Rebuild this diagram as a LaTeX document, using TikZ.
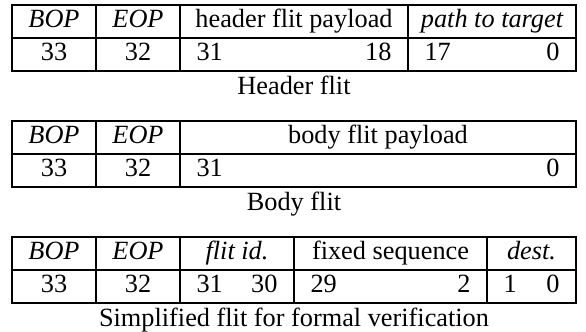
\documentclass[tikz,border=0pt]{standalone}
\usepackage{fontspec}
\setmainfont{Liberation Serif}
\begin{document}
\begin{tikzpicture}[x=0.3803pt, y=-0.3803pt,
    outer/.style={line width=0.8pt},
    inner/.style={line width=0.45pt},
    cell/.style={inner sep=0pt, anchor=base},
    lcell/.style={inner sep=0pt, anchor=base west},
    rcell/.style={inner sep=0pt, anchor=base east}]
      \useasboundingbox (0,0) rectangle (586,331);

      \draw [outer] (12,5) rectangle (576,71);
      \draw [inner] (12,38) -- (576,38);
      \draw [inner] (96,5) -- (96,71);
      \draw [inner] (180,5) -- (180,71);
      \draw [inner] (408,5) -- (408,71);
      \node[cell] (hbop) at (54,27) {\itshape BOP};
      \node[cell] (heop) at (138,27) {\itshape EOP};
      \node[cell] (hpay) at (294,27) {header flit payload};
      \node[cell] (hpath) at (492,27) {\itshape path to target};
      \node[cell] (hb33) at (54,60) {33};
      \node[cell] (hb32) at (138,60) {32};
      \node[lcell] (hb31) at (196,60) {31};
      \node[rcell] (hb18) at (392,60) {18};
      \node[lcell] (hb17) at (424,60) {17};
      \node[rcell] (hb0) at (560,60) {0};
      \node[cell] (hcap) at (294,94) {Header flit};

      \draw [outer] (12,121) rectangle (576,187);
      \draw [inner] (12,154) -- (576,154);
      \draw [inner] (96,121) -- (96,187);
      \draw [inner] (180,121) -- (180,187);
      \node[cell] (bbop) at (54,143) {\itshape BOP};
      \node[cell] (beop) at (138,143) {\itshape EOP};
      \node[cell] (bpay) at (378,143) {body flit payload};
      \node[cell] (bb33) at (54,176) {33};
      \node[cell] (bb32) at (138,176) {32};
      \node[lcell] (bb31) at (196,176) {31};
      \node[rcell] (bb0) at (560,176) {0};
      \node[cell] (bcap) at (294,210) {Body flit};

      \draw [outer] (12,237) rectangle (576,303);
      \draw [inner] (12,270) -- (576,270);
      \draw [inner] (96,237) -- (96,303);
      \draw [inner] (180,237) -- (180,303);
      \draw [inner] (294,237) -- (294,303);
      \draw [inner] (487,237) -- (487,303);
      \node[cell] (sbop) at (54,259) {\itshape BOP};
      \node[cell] (seop) at (138,259) {\itshape EOP};
      \node[cell] (sid) at (237,259) {\itshape flit id.};
      \node[cell] (sseq) at (390.5,259) {fixed sequence};
      \node[cell] (sdest) at (531.5,259) {\itshape dest.};
      \node[cell] (sb33) at (54,292) {33};
      \node[cell] (sb32) at (138,292) {32};
      \node[lcell] (sb31) at (196,292) {31};
      \node[rcell] (sb30) at (278,292) {30};
      \node[lcell] (sb29) at (310,292) {29};
      \node[rcell] (sb2) at (471,292) {2};
      \node[lcell] (sb1) at (503,292) {1};
      \node[rcell] (sb0) at (560,292) {0};
      \node[cell] (scap) at (294,326) {Simplified flit for formal verification};
    \end{tikzpicture}
\end{document}
